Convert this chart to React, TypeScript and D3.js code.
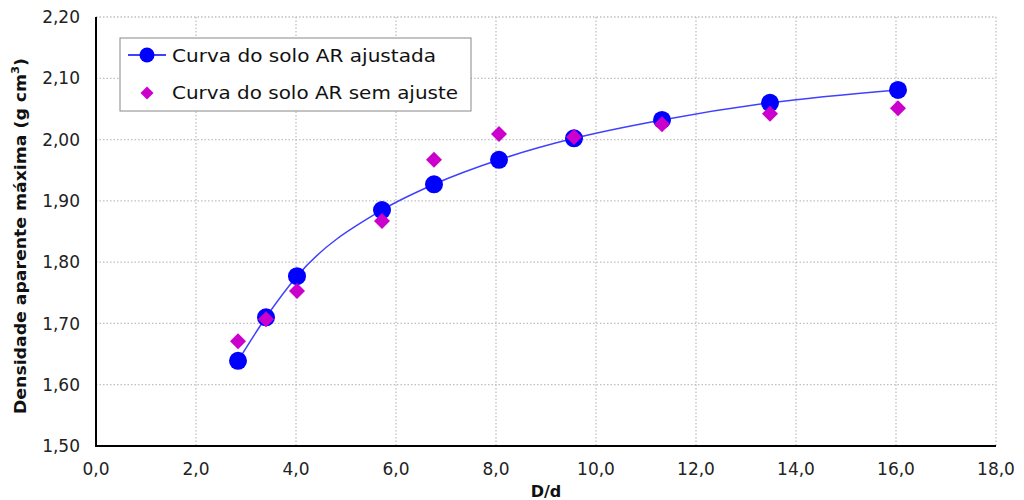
import React from "react";
import * as d3 from "d3";

const dRatio = [2.84, 3.40, 4.02, 5.72, 6.76, 8.06, 9.56, 11.32, 13.48, 16.04];
const ajustada = [1.639, 1.710, 1.777, 1.885, 1.927, 1.967, 2.002, 2.032, 2.060, 2.081];
const semAjuste = [1.671, 1.707, 1.753, 1.867, 1.967, 2.009, 2.004, 2.025, 2.042, 2.051];
const xTicks = [0, 2, 4, 6, 8, 10, 12, 14, 16, 18];
const yTicks = [1.5, 1.6, 1.7, 1.8, 1.9, 2.0, 2.1, 2.2];
const seriesNames = ["Curva do solo AR ajustada", "Curva do solo AR sem ajuste"];

const W = 1024, H = 500;
const L = 96, R = 996, T = 17, B = 446;

export default function App() {
  const x = d3.scaleLinear().domain([0, 18]).range([L, R]);
  const y = d3.scaleLinear().domain([1.5, 2.2]).range([B, T]);
  const line = d3
    .line<number>()
    .x((_, i) => x(dRatio[i]))
    .y((v) => y(v))
    .curve(d3.curveMonotoneX);
  const fmt = (v: number, d: number) => v.toFixed(d).replace(".", ",");
  const font = "'DejaVu Sans', Verdana, sans-serif";
  const diamond = (cx: number, cy: number, r: number) =>
    `M${cx},${cy - r}L${cx + r},${cy}L${cx},${cy + r}L${cx - r},${cy}Z`;
  return (
    <svg
      width={W}
      height={H}
      style={{ position: "absolute", left: 0, top: 0, background: "#fff" }}
      fontFamily={font}
    >
      <rect x={0} y={0} width={W} height={H} fill="#fff" />
      {/* grid */}
      {xTicks.map((t) => (
        <line key={"gx" + t} x1={x(t)} x2={x(t)} y1={T} y2={B} stroke="#c0c0c0" strokeWidth={1.3} strokeDasharray="1.5,2" />
      ))}
      {yTicks.map((t) => (
        <line key={"gy" + t} x1={L} x2={R} y1={y(t)} y2={y(t)} stroke="#c0c0c0" strokeWidth={1.3} strokeDasharray="1.5,2" />
      ))}
      {/* axes */}
      <line x1={L} x2={L} y1={T} y2={B + 1} stroke="#000" strokeWidth={2} />
      <line x1={L - 1} x2={R} y1={B} y2={B} stroke="#000" strokeWidth={2} />
      {yTicks.map((t) => (
        <text key={"ty" + t} x={80} y={y(t)} dy="0.36em" textAnchor="end" fontSize={17} fill="#222">
          {fmt(t, 2)}
        </text>
      ))}
      {xTicks.map((t) => (
        <text key={"tx" + t} x={x(t)} y={475} textAnchor="middle" fontSize={17} fill="#222">
          {fmt(t, 1)}
        </text>
      ))}
      <text x={546} y={497} textAnchor="middle" fontSize={16} fontWeight="bold" fill="#111">
        D/d
      </text>
      <text
        transform={`translate(26,${236}) rotate(-90)`}
        textAnchor="middle"
        fontSize={15}
        fontWeight="bold"
        fill="#111"
        textLength={356}
        lengthAdjust="spacingAndGlyphs"
      >
        Densidade aparente  máxima (g cm<tspan dy="-7" fontSize={10}>3</tspan><tspan dy="7">)</tspan>
      </text>
      {/* series */}
      <path d={line(ajustada) || ""} fill="none" stroke="#4040ff" strokeWidth={1.5} />
      {ajustada.map((v, i) => (
        <circle key={"c" + i} cx={x(dRatio[i])} cy={y(v)} r={9} fill="#0000ff" />
      ))}
      {semAjuste.map((v, i) => (
        <path key={"d" + i} d={diamond(x(dRatio[i]), y(v), 8)} fill="#cc00cc" />
      ))}
      {/* legend */}
      <rect x={120} y={38} width={351} height={73} fill="#fff" stroke="#888" strokeWidth={1} />
      <line x1={128} x2={166} y1={55} y2={55} stroke="#0000ff" strokeWidth={1.5} />
      <circle cx={147} cy={55} r={7.5} fill="#0000ff" />
      <text x={172} y={56} dy="0.35em" fontSize={18} fill="#111" textLength={264} lengthAdjust="spacingAndGlyphs">{seriesNames[0]}</text>
      <path d={diamond(147, 93, 6.5)} fill="#cc00cc" />
      <text x={172} y={93} dy="0.35em" fontSize={18} fill="#111" textLength={286} lengthAdjust="spacingAndGlyphs">{seriesNames[1]}</text>
    </svg>
  );
}
